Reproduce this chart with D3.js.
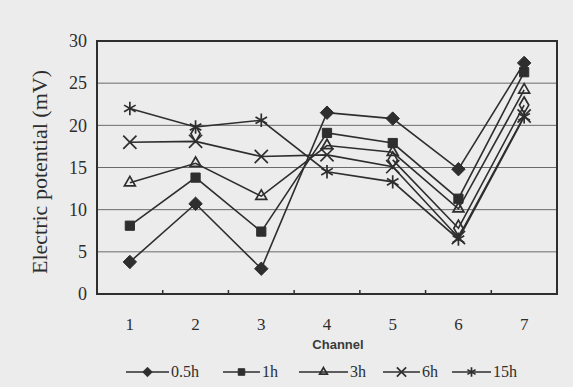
<!DOCTYPE html>
<html>
<head>
<meta charset="utf-8">
<script src="https://cdn.jsdelivr.net/npm/d3@7"></script>
<style>
  body { margin: 0; background: #ececec; }
  svg { display: block; }
</style>
</head>
<body>
<svg id="chart" width="573" height="387"></svg>
<script>
// values
let channels = ['1', '2', '3', '4', '5', '6', '7']
let seriesNames = ['0.5h', '1h', '3h', '6h', '15h']
let h05 = [3.8, 10.7, 3.0, 21.5, 20.8, 14.8, 27.4]
let h1 = [8.1, 13.8, 7.4, 19.1, 17.9, 11.3, 26.3]
let h3 = [13.2, 15.5, 11.6, 17.6, 16.8, 10.1, 24.2]
let h6 = [18.0, 18.1, 16.3, 16.5, 15.1, 6.7, 21.1]
let h15 = [22.0, 19.8, 20.6, 14.5, 13.3, 6.5, 21.0]
// open diamond marks visible in the plot, not listed in the legend
let unlabeled = [null, 19.0, null, null, 15.9, 7.8, 22.4]
let yTicks = [0, 5, 10, 15, 20, 25, 30]

let ink = '#2e2e2e'
let margin = { top: 41, right: 16, bottom: 93, left: 97 }
let width = 573 - margin.left - margin.right
let height = 387 - margin.top - margin.bottom

let svg = d3.select('#chart')
let chart = svg.append('g')
  .attr('transform', 'translate(' + margin.left + ',' + margin.top + ')')

let x = d3.scaleBand().domain(channels).range([0, width])
let y = d3.scaleLinear().domain([0, 30]).range([height, 0])

// horizontal grid
chart.append('g')
  .selectAll('line')
  .data(yTicks.slice(1, -1))
  .enter()
  .append('line')
  .attr('x1', 0).attr('x2', width)
  .attr('y1', d => y(d)).attr('y2', d => y(d))
  .attr('stroke', '#6a6a6a')
  .attr('stroke-width', 1)

// y axis labels
let yAxis = d3.axisLeft(y).tickValues(yTicks).tickSize(0).tickPadding(10)
let axisY = chart.append('g').call(yAxis)
axisY.select('.domain').remove()
axisY.selectAll('text')
  .attr('font-family', 'Liberation Serif, serif')
  .attr('font-size', '18px')
  .attr('fill', ink)

// x axis: inward ticks between channels
let bottomTicks = channels.slice(1).map(c => x(c))
chart.append('g')
  .selectAll('line')
  .data(bottomTicks)
  .enter()
  .append('line')
  .attr('x1', d => d).attr('x2', d => d)
  .attr('y1', height).attr('y2', height - 4)
  .attr('stroke', ink)
  .attr('stroke-width', 1.5)

let xAxis = d3.axisBottom(x).tickSize(0).tickPadding(24)
let axisX = chart.append('g').attr('transform', 'translate(0,' + height + ')').call(xAxis)
axisX.select('.domain').remove()
axisX.selectAll('text')
  .attr('font-family', 'Liberation Serif, serif')
  .attr('font-size', '17px')
  .attr('fill', ink)

// frame
chart.append('rect')
  .attr('width', width).attr('height', height)
  .attr('fill', 'none')
  .attr('stroke', ink)
  .attr('stroke-width', 2)

let series = [
  { name: '0.5h', values: h05, symbol: d3.symbolDiamond2, size: 115, filled: true },
  { name: '1h', values: h1, symbol: d3.symbolSquare, size: 85, filled: true },
  { name: '3h', values: h3, symbol: d3.symbolTriangle2, size: 85, filled: false },
  { name: '6h', values: h6, symbol: d3.symbolTimes, size: 115, filled: false },
  { name: '15h', values: h15, symbol: d3.symbolAsterisk, size: 125, filled: false },
  { name: '', values: unlabeled, symbol: d3.symbolDiamond, size: 75, filled: false }
]

let line = d3.line()
  .defined(d => d != null)
  .x((d, i) => x(channels[i]) + x.bandwidth() / 2)
  .y(d => y(d))

function drawSymbol (sel, s, size) {
  sel.attr('d', d3.symbol().type(s.symbol).size(size))
    .attr('fill', s.filled ? ink : 'none')
    .attr('stroke', ink)
    .attr('stroke-width', s.filled ? 1 : 1.7)
}

series.forEach(s => {
  chart.append('path')
    .datum(s.values)
    .attr('d', line)
    .attr('fill', 'none')
    .attr('stroke', ink)
    .attr('stroke-width', 1.6)
})

series.forEach(s => {
  chart.append('g')
    .selectAll('path')
    .data(s.values.map((v, i) => ({ v, i })).filter(d => d.v != null))
    .enter()
    .append('path')
    .attr('transform', d => 'translate(' + (x(channels[d.i]) + x.bandwidth() / 2) + ',' + y(d.v) + ')')
    .call(drawSymbol, s, s.size)
})

// titles
svg.append('text')
  .attr('transform', 'translate(338,349)')
  .attr('text-anchor', 'middle')
  .attr('font-family', 'Liberation Sans, sans-serif')
  .attr('font-size', '13px')
  .attr('font-weight', 'bold')
  .attr('fill', '#3a3a3a')
  .text('Channel')

svg.append('text')
  .attr('transform', 'translate(47,172) rotate(-90)')
  .attr('text-anchor', 'middle')
  .attr('font-family', 'Liberation Serif, serif')
  .attr('font-size', '22px')
  .attr('fill', ink)
  .text('Electric potential  (mV)')

// legend
let legendX = [126, 223, 299, 383, 452]
let legendLen = [43, 37, 49, 37, 39]
let legendY = 372
let legend = svg.append('g')
seriesNames.forEach((name, i) => {
  let s = series[i]
  let g = legend.append('g').attr('transform', 'translate(' + legendX[i] + ',' + legendY + ')')
  g.append('line')
    .attr('x1', 0).attr('x2', legendLen[i])
    .attr('stroke', ink).attr('stroke-width', 1.6)
  g.append('path')
    .attr('transform', 'translate(' + legendLen[i] / 2 + ',0)')
    .call(drawSymbol, s, s.size * 0.5)
  g.append('text')
    .attr('x', legendLen[i] + 2)
    .attr('y', 5)
    .attr('font-family', 'Liberation Serif, serif')
    .attr('font-size', '16px')
    .attr('fill', ink)
    .text(name)
})
</script>
</body>
</html>
